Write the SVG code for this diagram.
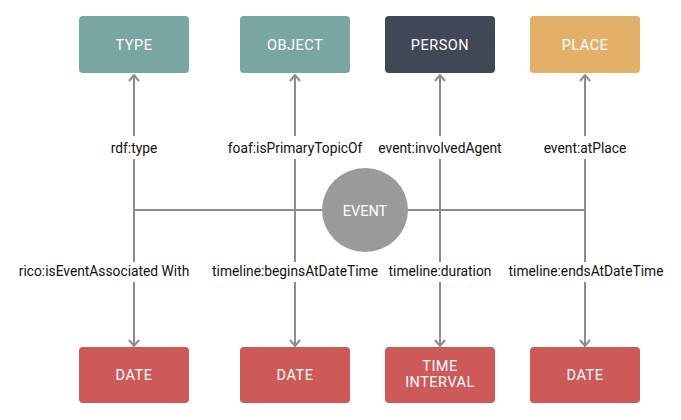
<svg xmlns="http://www.w3.org/2000/svg" width="681" height="420" viewBox="0 0 681 420">
<style>
.box text{font-family:Roboto,"Liberation Sans",sans-serif;font-size:14.5px;fill:#fff;text-anchor:middle;letter-spacing:0.5px}
.lbl{font-family:Roboto,"Liberation Sans",sans-serif;font-size:13.8px;fill:#111;text-anchor:middle}
.ln{stroke:#8c8c8c;stroke-width:2;fill:none}
.arr{marker-end:url(#ah)}
</style>
<defs>
<marker id="ah" viewBox="0 0 12 12" refX="11" refY="6" markerWidth="12" markerHeight="12" markerUnits="userSpaceOnUse" orient="auto">
<path d="M5,1 L11,6 L5,11" fill="none" stroke="#8c8c8c" stroke-width="2"/>
</marker>
</defs>
<rect width="681" height="420" fill="#fff"/>
<g id="connectors">
<line class="ln" x1="134" y1="210" x2="585" y2="210"/>
<line class="ln" x1="295" y1="210" x2="440" y2="210" stroke-width="3"/>
<g>
<line class="ln arr" x1="134" y1="136" x2="134" y2="75"/>
<line class="ln" x1="134" y1="159" x2="134" y2="262"/>
<line class="ln arr" x1="134" y1="282" x2="134" y2="346"/>
</g>
<g>
<line class="ln arr" x1="295" y1="136" x2="295" y2="75"/>
<line class="ln" x1="295" y1="159" x2="295" y2="262"/>
<line class="ln arr" x1="295" y1="282" x2="295" y2="346"/>
</g>
<g>
<line class="ln arr" x1="440" y1="136" x2="440" y2="75"/>
<line class="ln" x1="440" y1="159" x2="440" y2="262"/>
<line class="ln arr" x1="440" y1="282" x2="440" y2="346"/>
</g>
<g>
<line class="ln arr" x1="585" y1="136" x2="585" y2="75"/>
<line class="ln" x1="585" y1="159" x2="585" y2="262"/>
<line class="ln arr" x1="585" y1="282" x2="585" y2="346"/>
</g>
<text class="lbl" x="134" y="153">rdf:type</text>
<text class="lbl" x="295" y="153">foaf:isPrimaryTopicOf</text>
<text class="lbl" x="440" y="153">event:involvedAgent</text>
<text class="lbl" x="585" y="153">event:atPlace</text>
<text class="lbl" x="104" y="276">rico:isEventAssociated With</text>
<text class="lbl" x="295" y="276">timeline:beginsAtDateTime</text>
<text class="lbl" x="440" y="276">timeline:duration</text>
<text class="lbl" x="586" y="276">timeline:endsAtDateTime</text>
</g>
<g id="event">
<ellipse cx="365" cy="210" rx="43" ry="42" fill="#9a9a9a"/>
<text x="365" y="215.5" font-family="Roboto,'Liberation Sans',sans-serif" font-size="14.5" fill="#fff" text-anchor="middle">EVENT</text>
</g>
<g id="type" class="box"><rect x="79" y="16" width="110" height="57" rx="4" fill="#7aa6a2"/><text x="134" y="50">TYPE</text></g>
<g id="object" class="box"><rect x="240" y="16" width="110" height="57" rx="4" fill="#7aa6a2"/><text x="295" y="50">OBJECT</text></g>
<g id="person" class="box"><rect x="385" y="16" width="110" height="57" rx="4" fill="#404858"/><text x="440" y="50">PERSON</text></g>
<g id="place" class="box"><rect x="530" y="16" width="110" height="57" rx="4" fill="#e3b069"/><text x="585" y="50">PLACE</text></g>
<g id="date1" class="box"><rect x="79" y="347" width="110" height="56" rx="4" fill="#cd5a58"/><text x="134" y="380">DATE</text></g>
<g id="date2" class="box"><rect x="240" y="347" width="110" height="56" rx="4" fill="#cd5a58"/><text x="295" y="380">DATE</text></g>
<g id="interval" class="box"><rect x="385" y="347" width="110" height="56" rx="4" fill="#cd5a58"/><text x="440" y="371">TIME</text><text x="440" y="387">INTERVAL</text></g>
<g id="date3" class="box"><rect x="530" y="347" width="110" height="56" rx="4" fill="#cd5a58"/><text x="585" y="380">DATE</text></g>
</svg>
